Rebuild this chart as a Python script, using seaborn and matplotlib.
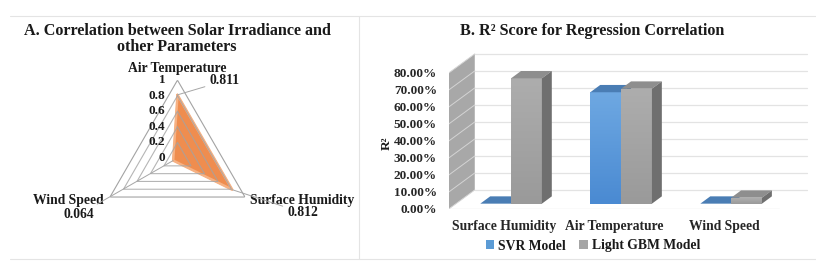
import numpy as np
import pandas as pd
import seaborn as sns
import matplotlib.pyplot as plt
from matplotlib.patches import Polygon, Rectangle
from matplotlib.lines import Line2D
from matplotlib.colors import LinearSegmentedColormap

# Panel A: correlation of solar irradiance with other parameters
radar_params = ['Air Temperature', 'Surface Humidity', 'Wind Speed']
radar_values = [0.811, 0.812, 0.064]
radar_ticks = [0, 0.2, 0.4, 0.6, 0.8, 1]

# Panel B: R2 score per feature and model
features = ['Surface Humidity', 'Air Temperature', 'Wind Speed']
models = ['SVR Model', 'Light GBM Model']
svr_r2 = [0.0, 0.655, 0.0]
lgbm_r2 = [0.737, 0.676, 0.035]
r2_ticks = [0, 0.1, 0.2, 0.3, 0.4, 0.5, 0.6, 0.7, 0.8]

sns.set_theme(style='white')
plt.rcParams['font.family'] = ['Liberation Serif', 'DejaVu Serif']
plt.rcParams['font.weight'] = 'bold'
plt.rcParams['text.color'] = '#1a1a1a'

fig = plt.figure(figsize=(8.16, 2.8), dpi=100)
W, H = 816, 280

# light frame lines around the panels
frame_col = '#e4e4e4'
fig.add_artist(Line2D([10 / W, 1], [1 - 16 / H] * 2, color=frame_col, lw=0.8))
fig.add_artist(Line2D([10 / W, 1], [1 - 259 / H] * 2, color=frame_col, lw=0.8))
fig.add_artist(Line2D([359 / W] * 2, [1 - 16 / H, 1 - 259 / H], color=frame_col, lw=0.8))

# ---------- Panel A: radar ----------
fig.text(177 / W, 1 - 39 / H, 'A. Correlation between Solar Irradiance and\nother Parameters',
         ha='center', va='center', fontsize=11.6, fontweight='bold', linespacing=1.05)

axr = fig.add_axes([0.122, 0.157, 0.191, 0.557], projection='polar')
axr.set_theta_zero_location('N')
axr.set_theta_direction(-1)
axr.set_ylim(0, 1)
axr.set_facecolor('none')
axr.grid(False)
axr.spines['polar'].set_visible(False)
axr.set_xticks([])
axr.set_yticks([])

theta = np.linspace(0, 2 * np.pi, len(radar_params), endpoint=False)
theta_c = np.append(theta, theta[0])
vals_c = np.append(radar_values, radar_values[0])

axr.fill(theta_c, vals_c, color='#ef8d4f', zorder=2)
axr.plot(theta_c, vals_c, color='#f6b183', lw=1.8, zorder=2)
for r in radar_ticks[1:]:
    axr.plot(theta_c, [r] * len(theta_c), color='#a3a3a3', lw=0.8, zorder=3,
             alpha=1 if r == 1 else 0.8)

for v in radar_ticks:
    axr.annotate(f'{v:g}', xy=(0, v), xytext=(-12, 0), textcoords='offset pixels',
                 ha='right', va='center', fontsize=9.5, fontweight='bold', annotation_clip=False)

# category labels
cat_offsets = [(0, 12, 'center', 'center'), (5, -3, 'left', 'center'), (-6, -3, 'right', 'center')]
for t, name, (ox, oy, ha, va) in zip(theta, radar_params, cat_offsets):
    axr.annotate(name, xy=(t, 1), xytext=(ox, oy), textcoords='offset pixels',
                 ha=ha, va=va, fontsize=9.8, fontweight='bold', annotation_clip=False)

# value labels with leader lines
val_offsets = [(32, 14, 'left'), (55, -23, 'left'), (-79, -54, 'right')]
for t, v, (ox, oy, ha) in zip(theta, radar_values, val_offsets):
    axr.annotate(f'{v:.3f}', xy=(t, v), xytext=(ox, oy), textcoords='offset pixels',
                 ha=ha, va='center', fontsize=9.8, fontweight='bold', annotation_clip=False,
                 arrowprops=dict(arrowstyle='-', color='#a6a6a6', lw=0.7,
                                 shrinkA=1, shrinkB=0))

# ---------- Panel B: pseudo 3D bars ----------
fig.text(592 / W, 1 - 31 / H, 'B. R² Score for Regression Correlation',
         ha='center', va='center', fontsize=11.6, fontweight='bold')

df = pd.DataFrame({
    'feature': features * 2,
    'r2': svr_r2 + lgbm_r2,
    'model': [models[0]] * len(features) + [models[1]] * len(features),
})

blue, grey = '#5b9bd5', '#a5a5a5'
axb = fig.add_axes([0.550, 0.2536, 0.445, 0.577])
sns.barplot(data=df, x='feature', y='r2', hue='model', palette=[blue, grey],
            width=0.56, saturation=1, ax=axb, zorder=5)
bars = sorted([p for p in axb.patches if isinstance(p, Rectangle)], key=lambda p: p.get_x())

# depth of the back wall and of the bars (data units)
bx, by = 0.236, 0.112
dx, dy = 0.09, 0.043
sx, sy = 0.28 * bx, 0.28 * by
x0, x1 = -0.5, 2.5

# side wall, floor and back grid
axb.add_patch(Polygon([(x0, 0), (x0, r2_ticks[-1]), (x0 + bx, r2_ticks[-1] + by), (x0 + bx, by)],
                      closed=True, facecolor='#a8a8a8', edgecolor='none', zorder=1))
for v in r2_ticks:
    axb.plot([x0 + bx, x1 + bx + 0.02], [v + by] * 2, color='#e3e3e3', lw=0.9, zorder=0)
    axb.plot([x0, x0 + bx], [v, v + by], color='#d4d4d4', lw=0.7, zorder=1.5)
axb.plot([x0, x1], [0, 0], color='#e6e6e6', lw=1.0, zorder=1)

top_col = {blue: '#4a7db4', grey: '#8e8e8e'}
side_col = {blue: '#3e6a99', grey: '#6f6f6f'}
front_cmap = {blue: LinearSegmentedColormap.from_list('b', ['#4a8ad2', '#6ea8e2']),
              grey: LinearSegmentedColormap.from_list('g', ['#9a9a9a', '#adadad'])}
grad = np.linspace(0, 1, 64).reshape(-1, 1)
for i, p in enumerate(bars):
    fc = blue if p.get_facecolor()[2] > p.get_facecolor()[0] + 0.1 else grey
    z = 5 + i * 0.1
    x, w, h = p.get_x() + sx, p.get_width(), p.get_height()
    p.set_x(x)
    p.set_y(sy)
    p.set_zorder(z)
    p.set_edgecolor('none')
    if h > 0.01:
        im = axb.imshow(grad, extent=[x, x + w, sy, sy + h], origin='lower', aspect='auto',
                        cmap=front_cmap[fc], zorder=z + 0.01)
        im.set_clip_path(p)
    axb.add_patch(Polygon([(x, sy + h), (x + w, sy + h), (x + w + dx, sy + h + dy), (x + dx, sy + h + dy)],
                          closed=True, facecolor=top_col[fc], edgecolor='none', zorder=z + 0.02))
    axb.add_patch(Polygon([(x + w, sy), (x + w + dx, sy + dy), (x + w + dx, sy + h + dy), (x + w, sy + h)],
                          closed=True, facecolor=side_col[fc], edgecolor='none', zorder=z + 0.02))

axb.set_xlim(-0.5, 2.8)
axb.set_ylim(0, 0.95)
axb.set_yticks(r2_ticks)
axb.set_yticklabels([f'{v:.2%}' for v in r2_ticks])
axb.tick_params(axis='y', length=0, pad=8.5, labelsize=9.5)
axb.tick_params(axis='x', length=0, pad=8, labelsize=9.8)
for lab in axb.get_xticklabels() + axb.get_yticklabels():
    lab.set_fontweight('bold')
axb.set_xlabel('')
axb.set_ylabel('')
axb.set_facecolor('none')
sns.despine(ax=axb, left=True, bottom=True)

fig.text(387 / W, 1 - 143 / H, 'R²', rotation=90, ha='center', va='center',
         fontsize=9.5, fontweight='bold')

handles, labels = axb.get_legend_handles_labels()
axb.legend(handles, labels, loc='center', bbox_to_anchor=(593 / W, 1 - 246 / H),
           bbox_transform=fig.transFigure, ncol=2, frameon=False,
           handlelength=0.6, handleheight=0.6, handletextpad=0.3, columnspacing=1.0,
           prop={'size': 9.8, 'weight': 'bold'})

fig.savefig('out.png', dpi=100)
